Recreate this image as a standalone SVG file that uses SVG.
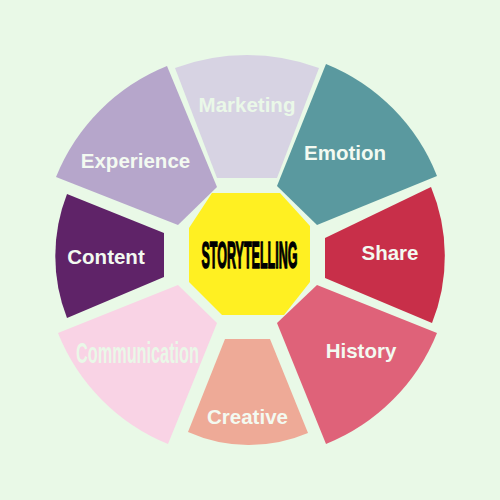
<svg xmlns="http://www.w3.org/2000/svg" width="500" height="500" viewBox="0 0 500 500">
<style>
.lbl{font-family:"Liberation Sans",Arial,sans-serif;font-weight:bold;font-size:20.5px;fill:#f3faf1;text-anchor:middle}
.pale{fill:#eaf8e8}
.seg{stroke:none}
</style>
<rect width="500" height="500" fill="#e9f9e7"/>
<g id="connectors"></g>
<g id="marketing"><path class="seg" d="M175,68 A206,206 0 0,1 319,68 L277,178 L217,178 Z" fill="#d7d3e3"/><text class="lbl pale" x="247" y="112">Marketing</text></g>
<g id="emotion"><path class="seg" d="M326,64 A200,200 0 0,1 437,176 L317,225 L277,186 Z" fill="#5a999f"/><text class="lbl" x="345" y="160">Emotion</text></g>
<g id="share"><path class="seg" d="M431,187 A180,180 0 0,1 432,323 L325,278 L325,238 Z" fill="#c82f49"/><text class="lbl" x="390" y="260">Share</text></g>
<g id="history"><path class="seg" d="M437,333 A200,200 0 0,1 326,444 L277,323 L317,285 Z" fill="#df6279"/><text class="lbl" x="361" y="358">History</text></g>
<g id="creative"><path class="seg" d="M308,433 A150,150 0 0,1 188,432 L225,339 L270,339 Z" fill="#eeaa97"/><text class="lbl" x="247.5" y="424">Creative</text></g>
<g id="communication"><path class="seg" d="M168,444 A200,200 0 0,1 58,333 L178,285 L217,323 Z" fill="#f9d3e5"/><text class="lbl pale" x="0" y="0" style="font-size:30px" transform="matrix(0.543,0,0,1,137.5,363)">Communication</text></g>
<g id="content"><path class="seg" d="M67,318 A170,170 0 0,1 67,194 L164,233 L164,277 Z" fill="#5f2368"/><text class="lbl" x="106" y="264">Content</text></g>
<g id="experience"><path class="seg" d="M56,177 A200,200 0 0,1 167,66 L217,187 L178,225 Z" fill="#b6a6cb"/><text class="lbl" x="135.5" y="168">Experience</text></g>
<g id="storytelling"><polygon points="212,193 280,193 310,226 310,282 284,315 222,315 189,282 189,228" fill="#fff022"/><text x="0" y="0" transform="matrix(0.339,0,0,1,249.5,268)" style="font-family:'Liberation Sans',Arial,sans-serif;font-weight:bold;font-size:37px;fill:#000;stroke:#000;stroke-width:1.5" text-anchor="middle">STORYTELLING</text></g>
</svg>
